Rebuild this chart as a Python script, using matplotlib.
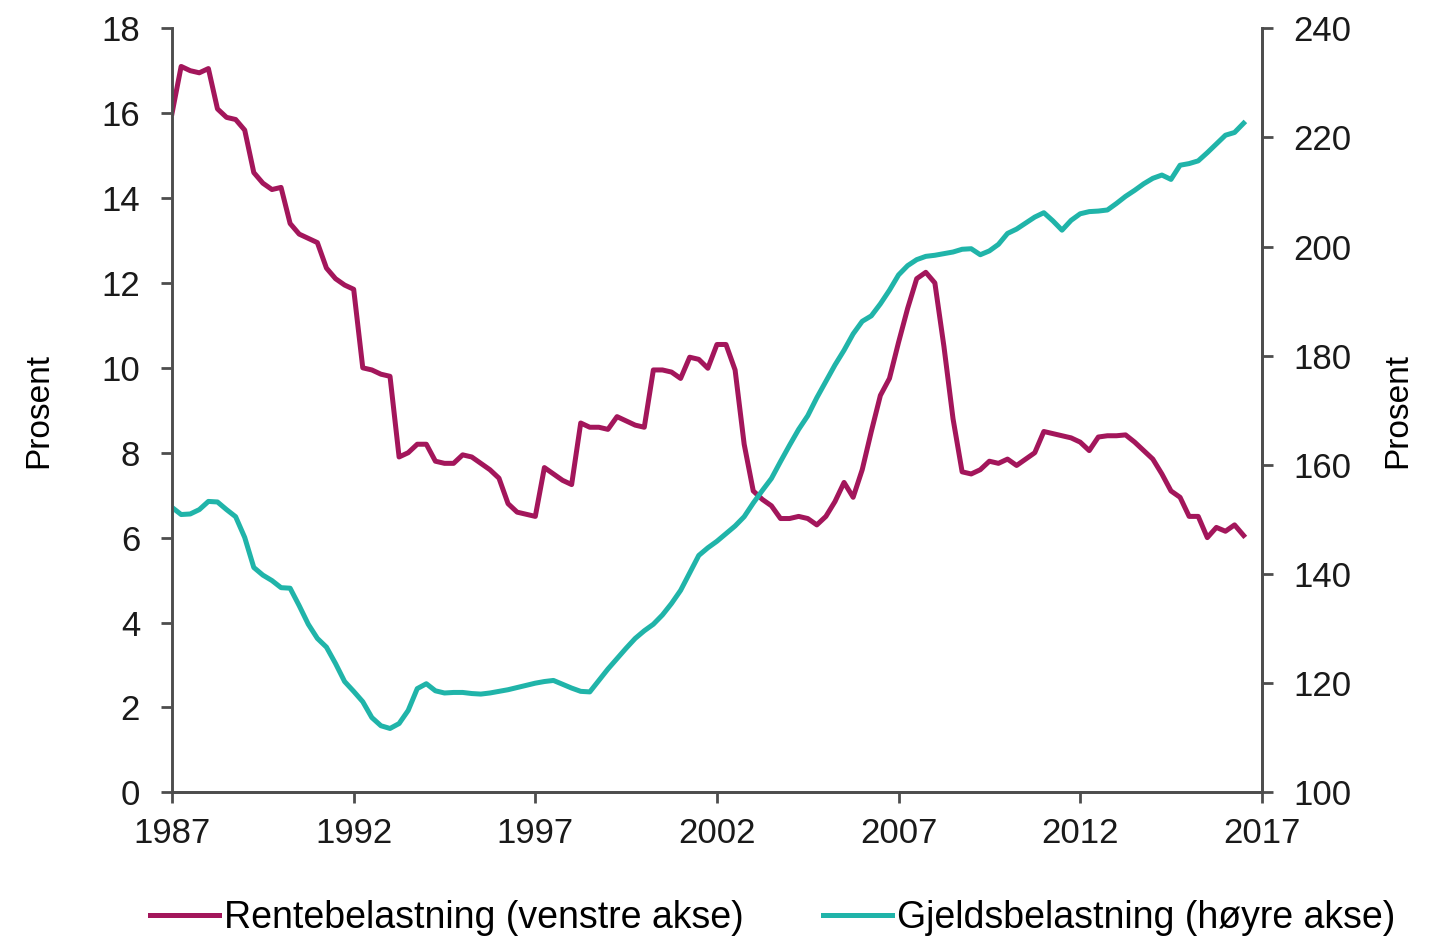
import numpy as np
import matplotlib.pyplot as plt

plt.rcParams['font.family'] = ['Liberation Sans', 'DejaVu Sans']

# Kvartalsvise observasjoner fra 1987K1
start_year = 1987
rentebelastning = [
    16.0, 17.1, 17.0, 16.95, 17.05, 16.1, 15.9, 15.85, 15.6, 14.6,
    14.35, 14.2, 14.25, 13.4, 13.15, 13.05, 12.95, 12.35, 12.1, 11.95,
    11.85, 10.0, 9.95, 9.85, 9.8, 7.9, 8.0, 8.2, 8.2, 7.8,
    7.75, 7.75, 7.95, 7.9, 7.75, 7.6, 7.4, 6.8, 6.6, 6.55,
    6.5, 7.65, 7.5, 7.35, 7.25, 8.7, 8.6, 8.6, 8.55, 8.85,
    8.75, 8.65, 8.6, 9.95, 9.95, 9.9, 9.75, 10.25, 10.2, 9.99,
    10.55, 10.55, 9.95, 8.2, 7.1, 6.9, 6.75, 6.45, 6.45, 6.5,
    6.45, 6.3, 6.5, 6.85, 7.3, 6.95, 7.6, 8.5, 9.35, 9.75,
    10.6, 11.4, 12.1, 12.25, 12.0, 10.5, 8.8, 7.55, 7.5, 7.6,
    7.8, 7.75, 7.85, 7.7, 7.85, 8.0, 8.5, 8.45, 8.4, 8.35,
    8.25, 8.05, 8.37, 8.4, 8.4, 8.42, 8.25, 8.05, 7.85, 7.5,
    7.1, 6.95, 6.5, 6.5, 6.0, 6.24, 6.15, 6.3, 6.05,
]
gjeldsbelastning = [
    152.2, 150.9, 151.0, 151.8, 153.3, 153.2, 151.8, 150.5, 146.7, 141.2,
    139.8, 138.8, 137.5, 137.4, 134.2, 130.8, 128.2, 126.6, 123.6, 120.3,
    118.5, 116.6, 113.7, 112.2, 111.7, 112.6, 115.0, 119.0, 119.9, 118.6,
    118.2, 118.3, 118.3, 118.1, 118.0, 118.2, 118.5, 118.8, 119.2, 119.6,
    120.0, 120.3, 120.5, 119.8, 119.1, 118.5, 118.4, 120.5, 122.6, 124.5,
    126.4, 128.2, 129.6, 130.8, 132.5, 134.6, 137.0, 140.2, 143.4, 144.8,
    146.0, 147.4, 148.8, 150.5, 153.0, 155.3, 157.5, 160.6, 163.6, 166.5,
    169.0, 172.3, 175.3, 178.3, 181.0, 184.0, 186.3, 187.3, 189.5, 192.0,
    194.8, 196.5, 197.6, 198.2, 198.4, 198.7, 199.0, 199.5, 199.6, 198.5,
    199.2, 200.4, 202.4, 203.2, 204.3, 205.4, 206.2, 204.7, 203.0, 204.8,
    206.0, 206.4, 206.5, 206.7, 207.9, 209.2, 210.3, 211.5, 212.5, 213.1,
    212.3, 214.9, 215.2, 215.7, 217.2, 218.8, 220.4, 220.9, 222.6,
]
x_ticks = [1987, 1992, 1997, 2002, 2007, 2012, 2017]

years = start_year + np.arange(len(rentebelastning)) / 4

rente_farge = '#a3165b'
gjeld_farge = '#20b4a9'
spine_farge = '#4d4d4d'

fig = plt.figure(figsize=(14.52, 9.41), dpi=100)
ax = fig.add_axes([0.1185, 0.158, 0.7505, 0.812])
ax2 = ax.twinx()

l1, = ax.plot(years, rentebelastning, color=rente_farge, lw=3.6,
              label='Rentebelastning (venstre akse)', zorder=3)
l2, = ax2.plot(years, gjeldsbelastning, color=gjeld_farge, lw=3.6,
               label='Gjeldsbelastning (høyre akse)', zorder=2)

ax.set_xlim(1987, 2017)
ax.set_ylim(0, 18)
ax2.set_ylim(100, 240)
ax.set_xticks(x_ticks)
ax.set_yticks(range(0, 19, 2))
ax2.set_yticks(range(100, 241, 20))

for a in (ax, ax2):
    a.spines['top'].set_visible(False)
    for s in ('left', 'right', 'bottom'):
        a.spines[s].set_color(spine_farge)
        a.spines[s].set_linewidth(2)
    a.tick_params(axis='both', direction='out', length=8, width=2,
                  color=spine_farge, labelsize=25, labelcolor='#1a1a1a')
    a.tick_params(axis='y', pad=15)
    a.tick_params(axis='x', pad=10)
ax.spines['left'].set_color('#8c8c8c')

ax.set_ylabel('Prosent', fontsize=24, labelpad=34)
ax2.set_ylabel('Prosent', fontsize=24, labelpad=22)

fig.legend(handles=[l1, l2], loc='center', bbox_to_anchor=(0.532, 0.0245),
           ncol=2, frameon=False, fontsize=27, handlelength=1.85,
           handletextpad=0.13, columnspacing=2.1)

fig.savefig('out.png', dpi=100, facecolor='white')
